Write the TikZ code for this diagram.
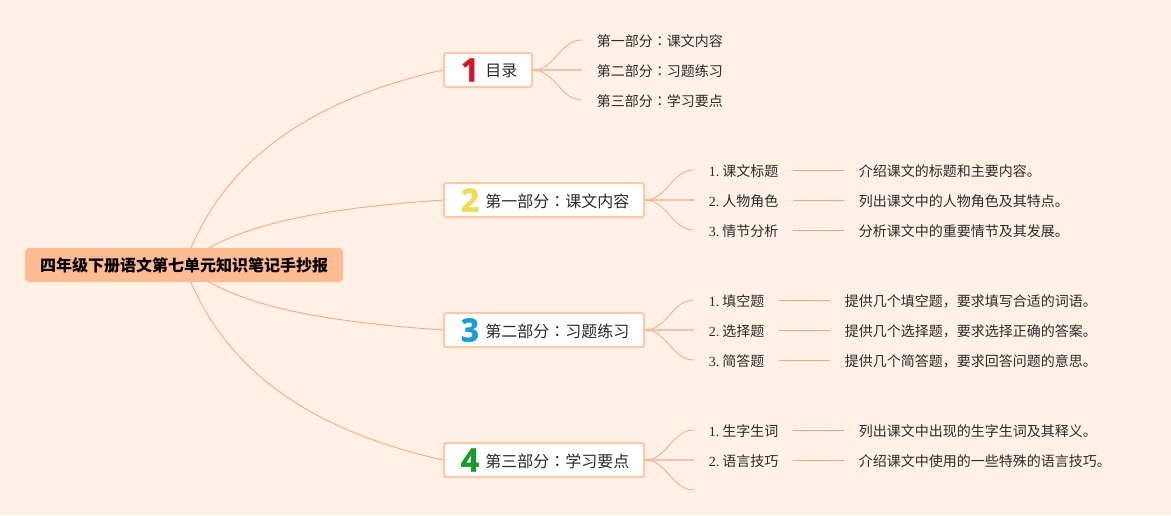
\documentclass[tikz,border=0pt]{standalone}
\usepackage{fontspec}
\usepackage{tikz}
\usetikzlibrary{backgrounds}
\setmainfont{Liberation Serif}
\newfontfamily\cjk{Noto Sans CJK SC}
\newfontfamily\cjktc{Noto Sans CJK TC}
\newfontfamily\numfont[FakeBold=1.6]{Open Sans Bold}
\definecolor{paper}{HTML}{FFF1E6}
\definecolor{rootfill}{HTML}{FFBC92}
\definecolor{boxline}{HTML}{FFC7A4}
\definecolor{linkc}{HTML}{FFA285}
\definecolor{inkc}{HTML}{2B2B2B}
\definecolor{numa}{HTML}{DC1428}
\definecolor{numb}{HTML}{F2DC50}
\definecolor{numc}{HTML}{1E9BDC}
\definecolor{numd}{HTML}{189B28}
\tikzset{
	root/.style={rectangle,rounded corners=3pt,fill=rootfill,minimum width=238.5pt,minimum height=25.5pt,inner sep=0pt,font=\cjk\fontsize{12}{12}\selectfont\bfseries,text=black},
	part/.style={rectangle,rounded corners=1.2pt,draw=boxline,line width=1.5pt,fill=white,minimum height=25.5pt,inner sep=0pt,anchor=west,font=\cjk\fontsize{12}{12}\selectfont,text=inkc},
	title/.style={anchor=west,inner sep=0pt,font=\cjk\fontsize{12}{12}\selectfont,text=inkc},
	leaf/.style={anchor=west,inner xsep=10.9pt,inner ysep=0pt,text height=11pt,text depth=2pt,font=\cjk\fontsize{10.5}{10.5}\selectfont,text=inkc},
	num/.style={inner sep=0pt,font=\numfont\fontsize{24}{24}\selectfont},
	link/.style={draw=linkc,line width=.65pt},
	twig/.style={draw=linkc,line width=.6pt},
	stem/.style={draw=linkc!70,line width=1pt}
}
\newcommand{\no}[1]{{\rmfamily #1.}~}
\newcommand{\cln}{{\cjktc ：}}
\begin{document}
\begin{tikzpicture}[x=.75pt,y=-.75pt]
	\useasboundingbox (0,0) rectangle (1171,515);
	% root
	\node[root] (root) at (184,265){四年级下册语文第七单元知识笔记手抄报};

	% parts
	\node[part,minimum width=66pt] (p1) at (443,70){};
	\node[part,minimum width=150pt] (p2) at (443,200){};
	\node[part,minimum width=150pt] (p3) at (443,330){};
	\node[part,minimum width=150pt] (p4) at (443,460){};
	\node[title] (t1) at (485,71){目录};
	\node[title] (t2) at (485,201){第一部分\cln 课文内容};
	\node[title] (t3) at (485,331){第二部分\cln 习题练习};
	\node[title] (t4) at (485,461){第三部分\cln 学习要点};
	\node[num,text=numa] (n1) at (470,70){1};
	\node[num,text=numb] (n2) at (470,200){2};
	\node[num,text=numc] (n3) at (470,330){3};
	\node[num,text=numd] (n4) at (470,460){4};

	% leaves of p1
	\node[leaf] (a1) at (582,40){第一部分\cln 课文内容};
	\node[leaf] (a2) at (582,70){第二部分\cln 习题练习};
	\node[leaf] (a3) at (582,100){第三部分\cln 学习要点};

	% leaves of p2
	\node[leaf] (b1) at (694,170){\no{1}课文标题};
	\node[leaf] (b2) at (694,200){\no{2}人物角色};
	\node[leaf] (b3) at (694,230){\no{3}情节分析};
	\node[leaf] (bd1) at (844,170){介绍课文的标题和主要内容。};
	\node[leaf] (bd2) at (844,200){列出课文中的人物角色及其特点。};
	\node[leaf] (bd3) at (844,230){分析课文中的重要情节及其发展。};

	% leaves of p3
	\node[leaf] (c1) at (694,300){\no{1}填空题};
	\node[leaf] (c2) at (694,330){\no{2}选择题};
	\node[leaf] (c3) at (694,360){\no{3}简答题};
	\node[leaf] (cd1) at (830,300){提供几个填空题，要求填写合适的词语。};
	\node[leaf] (cd2) at (830,330){提供几个选择题，要求选择正确的答案。};
	\node[leaf] (cd3) at (830,360){提供几个简答题，要求回答问题的意思。};

	% leaves of p4
	\node[leaf] (d1) at (694,430){\no{1}生字生词};
	\node[leaf] (d2) at (694,460){\no{2}语言技巧};
	\coordinate (d3) at (694,490);
	\node[leaf] (dd1) at (844,430){列出课文中出现的生字生词及其释义。};
	\node[leaf] (dd2) at (844,460){介绍课文中使用的一些特殊的语言技巧。};

	\begin{scope}[on background layer]
	\fill[paper] (0,0) rectangle (1171,515);
	% root to parts
	\draw[link] (root.center) .. controls (222,160) and (310,100) .. (p1.west);
	\draw[link] (root.center) .. controls (235,222) and (330,208) .. (p2.west);
	\draw[link] (root.center) .. controls (235,308) and (330,322) .. (p3.west);
	\draw[link] (root.center) .. controls (222,370) and (310,430) .. (p4.west);
	% p1
	\draw[twig] (p1.east) .. controls (555,70) and (560,40) .. (a1.west);
	\draw[stem] (p1.east) -- (a2.west);
	\draw[twig] (p1.east) .. controls (555,70) and (560,100) .. (a3.west);
	% p2
	\draw[twig] (p2.east) .. controls (667,200) and (672,170) .. (b1.west);
	\draw[stem] (p2.east) -- (b2.west);
	\draw[twig] (p2.east) .. controls (667,200) and (672,230) .. (b3.west);
	\draw[twig] (b1.east) -- (bd1.west);
	\draw[twig] (b2.east) -- (bd2.west);
	\draw[twig] (b3.east) -- (bd3.west);
	% p3
	\draw[twig] (p3.east) .. controls (667,330) and (672,300) .. (c1.west);
	\draw[stem] (p3.east) -- (c2.west);
	\draw[twig] (p3.east) .. controls (667,330) and (672,360) .. (c3.west);
	\draw[twig] (c1.east) -- (cd1.west);
	\draw[twig] (c2.east) -- (cd2.west);
	\draw[twig] (c3.east) -- (cd3.west);
	% p4
	\draw[twig] (p4.east) .. controls (667,460) and (672,430) .. (d1.west);
	\draw[stem] (p4.east) -- (d2.west);
	\draw[twig] (p4.east) .. controls (667,460) and (672,490) .. (d3);
	\draw[twig] (d1.east) -- (dd1.west);
	\draw[twig] (d2.east) -- (dd2.west);
	\end{scope}
\end{tikzpicture}
\end{document}
